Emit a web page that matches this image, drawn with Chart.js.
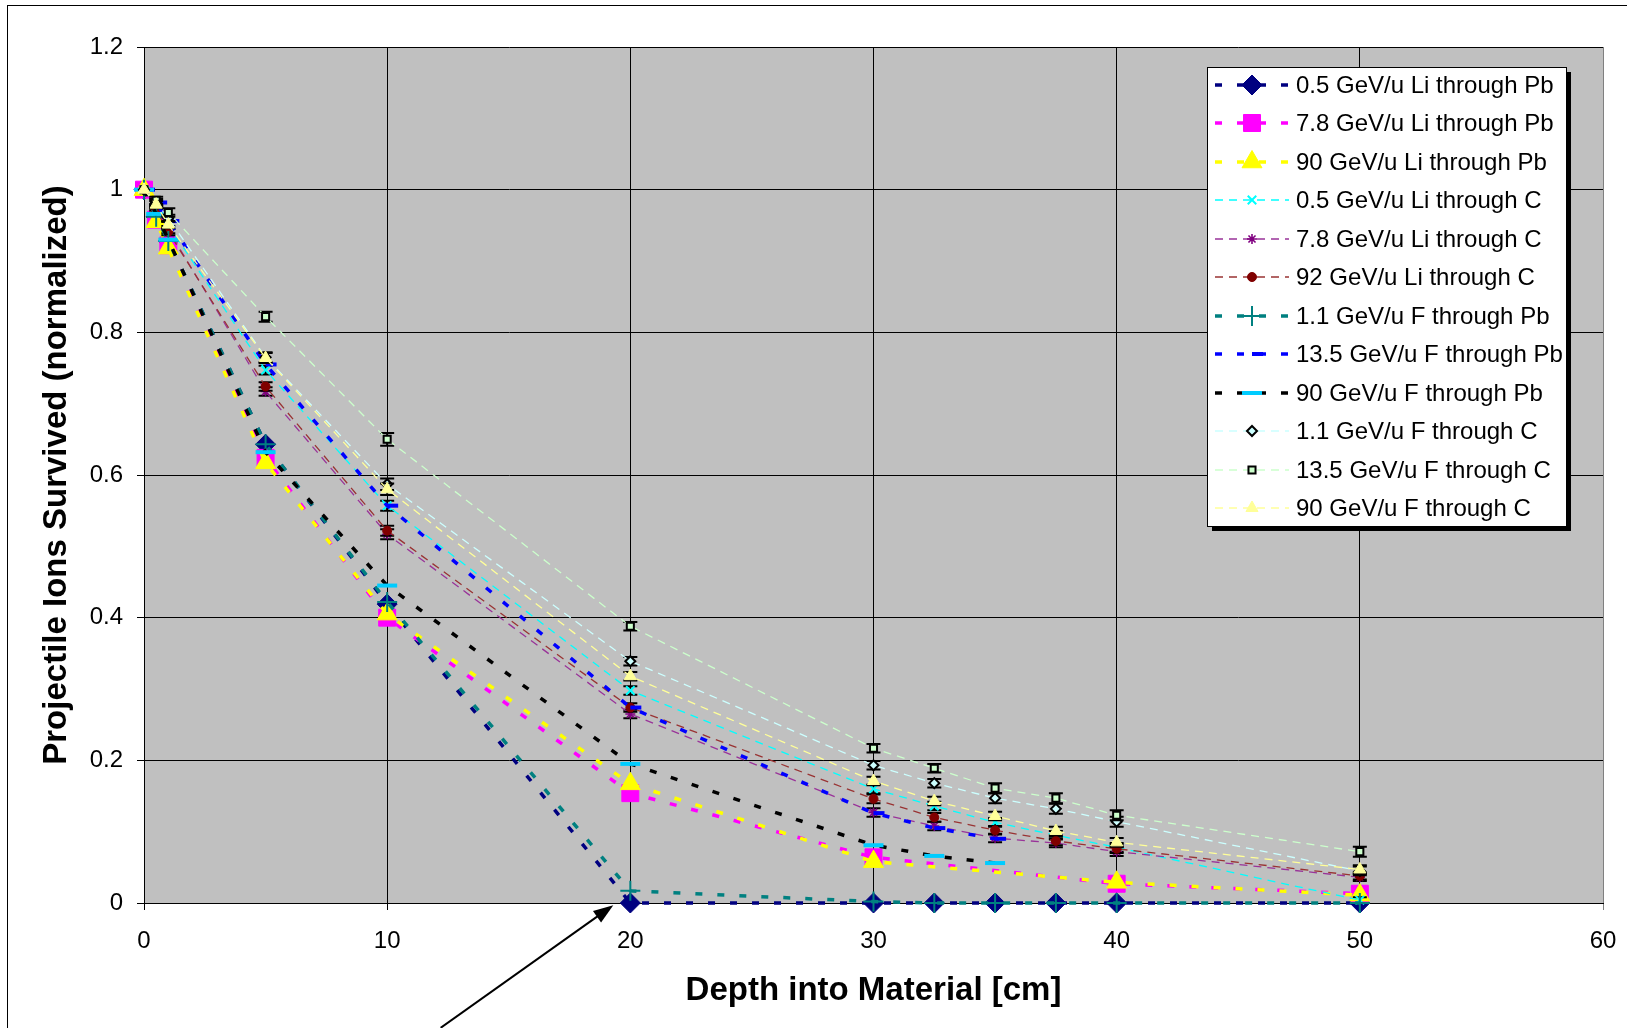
<!DOCTYPE html>
<html>
<head>
<meta charset="utf-8">
<script src="https://cdn.jsdelivr.net/npm/chart.js@4.4.0/dist/chart.umd.min.js"></script>
<style>
  html, body { margin: 0; padding: 0; background: #fff; overflow: hidden; }
  canvas { display: block; }
</style>
</head>
<body>
<canvas id="chart" width="1627" height="1028"></canvas>
<script>
// depth points (cm)
const xLiPb = [0, 0.5, 1, 5, 10, 20, 30, 40, 50];
const xFull = [0, 0.5, 1, 5, 10, 20, 30, 32.5, 35, 37.5, 40, 50];
const xFPb  = [0, 0.5, 1, 5, 10, 20, 30, 32.5, 35];

// survival fractions
const liPb05  = [1, 0.962, 0.928, 0.643, 0.419, 0, 0, 0, 0, 0, 0, 0];
const liPb78  = [1, 0.958, 0.922, 0.624, 0.400, 0.154, 0.064, 0.027, 0.013];
const liPb90  = [1, 0.955, 0.918, 0.617, 0.405, 0.167, 0.058, 0.029, 0.011];
const liC05   = [1, 0.975, 0.950, 0.747, 0.557, 0.298, 0.160, 0.136, 0.113, 0.095, 0.078, 0.004];
const liC78   = [1, 0.970, 0.944, 0.717, 0.517, 0.265, 0.127, 0.108, 0.091, 0.084, 0.072, 0.036];
const liC92   = [1, 0.972, 0.941, 0.724, 0.522, 0.274, 0.146, 0.120, 0.102, 0.087, 0.076, 0.038];
const fPb11   = [1, 0.962, 0.928, 0.643, 0.422, 0.017, 0.002, 0, 0, 0, 0, 0];
const fPb135  = [1, 0.982, 0.956, 0.755, 0.557, 0.274, 0.126, 0.105, 0.090];
const fPb90   = [1, 0.966, 0.930, 0.632, 0.445, 0.195, 0.081, 0.066, 0.056];
const fC11    = [1, 0.982, 0.960, 0.765, 0.587, 0.339, 0.193, 0.168, 0.147, 0.132, 0.114, 0.045];
const fC135   = [1, 0.985, 0.968, 0.822, 0.650, 0.388, 0.217, 0.189, 0.161, 0.147, 0.123, 0.072];
const fC90    = [1, 0.979, 0.951, 0.764, 0.580, 0.318, 0.171, 0.143, 0.122, 0.101, 0.085, 0.047];

// error bars (+/-) on the carbon runs
const errLiC05 = [0, 0.004, 0.005, 0.006, 0.007, 0.006, 0.006, 0.006, 0.006, 0.006, 0.006, 0.004];
const errLiC78 = [0, 0.004, 0.005, 0.006, 0.007, 0.006, 0.006, 0.006, 0.006, 0.006, 0.006, 0.005];
const errLiC92 = [0, 0.004, 0.005, 0.006, 0.007, 0.006, 0.006, 0.006, 0.006, 0.006, 0.006, 0.005];
const errFC11  = [0, 0.005, 0.005, 0.007, 0.008, 0.006, 0.006, 0.006, 0.007, 0.007, 0.007, 0.006];
const errFC135 = [0, 0.005, 0.006, 0.007, 0.009, 0.006, 0.006, 0.006, 0.007, 0.007, 0.007, 0.007];
const errFC90  = [0, 0.005, 0.005, 0.007, 0.008, 0.006, 0.006, 0.006, 0.006, 0.006, 0.006, 0.006];

const xTicks = [0, 10, 20, 30, 40, 50, 60];
const yTicks = [0, 0.2, 0.4, 0.6, 0.8, 1, 1.2];

// annotation arrow (data coordinates)
const arrowFrom = [12.2, -0.175];
const arrowTo = [19.3, -0.003];

function pts(xs, ys) { return xs.map((x, i) => ({ x: x, y: ys[i] })); }

const PB = { borderWidth: 3.5, borderDash: [7, 15] };
const CC = { borderWidth: 1.3, borderDash: [8, 6] };

function series(label, xs, ys, style, line, mk, extra) {
  return Object.assign({
    label: label,
    data: pts(xs, ys),
    showLine: true,
    tension: 0,
    clip: false,
    borderColor: line,
    borderWidth: style.borderWidth,
    borderDash: style.borderDash,
    pointStyle: mk.style,
    pointRadius: mk.r,
    pointHoverRadius: mk.r,
    pointBackgroundColor: mk.fill,
    pointBorderColor: mk.stroke,
    pointBorderWidth: mk.w
  }, extra || {});
}

const datasets = [
  series('0.5 GeV/u Li through Pb', xFull, liPb05, PB, '#000080', { style: 'rectRot', r: 10, fill: '#000080', stroke: '#000080', w: 1 }),
  series('7.8 GeV/u Li through Pb', xLiPb, liPb78, PB, '#FF00FF', { style: 'rect', r: 12, fill: '#FF00FF', stroke: '#FF00FF', w: 1 }),
  series('90 GeV/u Li through Pb', xLiPb, liPb90, PB, '#FFFF00', { style: 'triangle', r: 11.5, fill: '#FFFF00', stroke: '#FFFF00', w: 1 }),
  series('0.5 GeV/u Li through C', xFull, liC05, CC, '#00FFFF', { style: 'crossRot', r: 6, fill: '#00FFFF', stroke: '#00FFFF', w: 2 }, { errors: errLiC05 }),
  series('7.8 GeV/u Li through C', xFull, liC78, CC, '#993399', { style: 'star', r: 5, fill: '#800080', stroke: '#800080', w: 1.6 }, { errors: errLiC78 }),
  series('92 GeV/u Li through C', xFull, liC92, CC, '#993333', { style: 'circle', r: 4.5, fill: '#800000', stroke: '#800000', w: 1 }, { errors: errLiC92 }),
  series('1.1 GeV/u F through Pb', xFull, fPb11, PB, '#008080', { style: 'cross', r: 10, fill: '#008080', stroke: '#008080', w: 2 }),
  series('13.5 GeV/u F through Pb', xFPb, fPb135, PB, '#0000FF', { style: 'dash', r: 11, fill: '#0000FF', stroke: '#0000FF', w: 4 }),
  series('90 GeV/u F through Pb', xFPb, fPb90, PB, '#000000', { style: 'line', r: 10, fill: '#00CCFF', stroke: '#00CCFF', w: 4 }),
  series('1.1 GeV/u F through C', xFull, fC11, CC, '#CCFFFF', { style: 'rectRot', r: 5, fill: '#CCFFFF', stroke: '#000000', w: 2 }, { errors: errFC11 }),
  series('13.5 GeV/u F through C', xFull, fC135, CC, '#CCFFCC', { style: 'rect', r: 5, fill: '#CCFFCC', stroke: '#000000', w: 2 }, { errors: errFC135 }),
  series('90 GeV/u F through C', xFull, fC90, CC, '#FFFF99', { style: 'triangle', r: 7, fill: '#FFFF99', stroke: '#FFFF99', w: 1 }, { errors: errFC90 })
];
// later series on top, like the original
datasets.forEach((d, i) => { d.order = datasets.length - i; });

const plotBg = {
  id: 'plotBg',
  beforeDraw(chart) {
    const a = chart.chartArea, ctx = chart.ctx;
    ctx.save();
    ctx.fillStyle = '#C0C0C0';
    ctx.fillRect(a.left, a.top, a.right - a.left, a.bottom - a.top);
    ctx.restore();
  },
  afterDraw(chart) {
    const ctx = chart.ctx;
    ctx.save();
    ctx.strokeStyle = '#000';
    ctx.lineWidth = 1;
    ctx.strokeRect(7.5, 5.5, 2000, 2000);
    ctx.restore();
  }
};

const errorBars = {
  id: 'errorBars',
  beforeDatasetDraw(chart, args) {
    const ds = chart.data.datasets[args.index];
    if (!ds.errors) return;
    const ctx = chart.ctx, ys = chart.scales.y;
    ctx.save();
    ctx.strokeStyle = '#000';
    ctx.lineWidth = 2;
    args.meta.data.forEach((pt, i) => {
      const e = ds.errors[i];
      if (!e) return;
      const v = ds.data[i].y;
      const yt = ys.getPixelForValue(v + e), yb = ys.getPixelForValue(v - e);
      ctx.beginPath();
      ctx.moveTo(pt.x, yt); ctx.lineTo(pt.x, yb);
      ctx.moveTo(pt.x - 7, yt); ctx.lineTo(pt.x + 7, yt);
      ctx.moveTo(pt.x - 7, yb); ctx.lineTo(pt.x + 7, yb);
      ctx.stroke();
    });
    ctx.restore();
  }
};

const arrow = {
  id: 'arrow',
  afterDraw(chart) {
    const ctx = chart.ctx, xs = chart.scales.x, ys = chart.scales.y;
    const x0 = xs.getPixelForValue(arrowFrom[0]), y0 = ys.getPixelForValue(arrowFrom[1]);
    const x1 = xs.getPixelForValue(arrowTo[0]), y1 = ys.getPixelForValue(arrowTo[1]);
    const ang = Math.atan2(y1 - y0, x1 - x0), L = 20, H = 7;
    ctx.save();
    ctx.strokeStyle = '#000';
    ctx.fillStyle = '#000';
    ctx.lineWidth = 2;
    ctx.beginPath();
    ctx.moveTo(x0, y0);
    ctx.lineTo(x1 - Math.cos(ang) * L * 0.8, y1 - Math.sin(ang) * L * 0.8);
    ctx.stroke();
    ctx.beginPath();
    ctx.moveTo(x1, y1);
    ctx.lineTo(x1 - Math.cos(ang) * L - Math.sin(ang) * H, y1 - Math.sin(ang) * L + Math.cos(ang) * H);
    ctx.lineTo(x1 - Math.cos(ang) * L + Math.sin(ang) * H, y1 - Math.sin(ang) * L - Math.cos(ang) * H);
    ctx.closePath();
    ctx.fill();
    ctx.restore();
  }
};

const legendBox = {
  id: 'legendBox',
  afterDraw(chart) {
    const ctx = chart.ctx;
    const left = 1207, top = 67, w = 359, h = 459, y0 = 85, rowH = 38.45;
    ctx.save();
    ctx.fillStyle = '#000';
    ctx.fillRect(left + 5, top + 5, w, h);
    ctx.fillStyle = '#fff';
    ctx.fillRect(left, top, w, h);
    ctx.strokeStyle = '#000';
    ctx.lineWidth = 1;
    ctx.strokeRect(left + 0.5, top + 0.5, w, h);
    chart.data.datasets.forEach((ds, i) => {
      const y = Math.round(y0 + i * rowH);
      ctx.save();
      ctx.beginPath();
      ctx.setLineDash(ds.borderDash);
      ctx.lineWidth = ds.borderWidth;
      ctx.strokeStyle = ds.borderColor;
      ctx.moveTo(1215, y);
      ctx.lineTo(1289, y);
      ctx.stroke();
      ctx.setLineDash([]);
      ctx.fillStyle = ds.pointBackgroundColor;
      ctx.strokeStyle = ds.pointBorderColor;
      ctx.lineWidth = ds.pointBorderWidth;
      if (Chart.helpers && Chart.helpers.drawPoint) {
        Chart.helpers.drawPoint(ctx, { pointStyle: ds.pointStyle, radius: ds.pointRadius, borderWidth: ds.pointBorderWidth, rotation: 0 }, 1252, y);
      }
      ctx.restore();
      ctx.fillStyle = '#000';
      ctx.font = '24px "Liberation Sans", Arial, sans-serif';
      ctx.textBaseline = 'middle';
      ctx.fillText(ds.label, 1296, y + 1);
    });
    ctx.restore();
  }
};

new Chart(document.getElementById('chart'), {
  type: 'scatter',
  data: { datasets: datasets },
  plugins: [plotBg, errorBars, arrow, legendBox],
  options: {
    responsive: false,
    animation: false,
    layout: { padding: { left: 0, top: 47, right: 24, bottom: 0 } },
    plugins: { legend: { display: false }, tooltip: { enabled: false } },
    scales: {
      x: {
        type: 'linear', min: 0, max: 60,
        afterBuildTicks: s => { s.ticks = xTicks.map(v => ({ value: v })); },
        afterFit: s => { s.height = 125; s.paddingRight = 0; s.paddingLeft = 0; },
        grid: { color: c => (c.tick && c.tick.value === 60 ? '#808080' : '#000'), lineWidth: 1, tickLength: 7 },
        border: { color: '#000', width: 1 },
        ticks: { color: '#000', padding: 17, maxRotation: 0, autoSkip: false, font: { family: '"Liberation Sans", Arial, sans-serif', size: 24 } },
        title: { display: true, text: 'Depth into Material [cm]', color: '#000', padding: { top: 0, bottom: 17 },
          font: { family: '"Liberation Sans", Arial, sans-serif', size: 33, weight: 'bold' } }
      },
      y: {
        type: 'linear', min: 0, max: 1.2,
        afterBuildTicks: s => { s.ticks = yTicks.map(v => ({ value: v })); },
        afterFit: s => { s.width = 144; },
        grid: { color: '#000', lineWidth: 1, tickLength: 7 },
        border: { color: '#000', width: 1 },
        ticks: { color: '#000', padding: 14, font: { family: '"Liberation Sans", Arial, sans-serif', size: 24 },
          callback: v => String(+Number(v).toFixed(1)) },
        title: { display: true, text: 'Projectile Ions Survived (normalized)', color: '#000', padding: { top: 37, bottom: 0 },
          font: { family: '"Liberation Sans", Arial, sans-serif', size: 33, weight: 'bold' } }
      }
    }
  }
});
</script>
</body>
</html>
